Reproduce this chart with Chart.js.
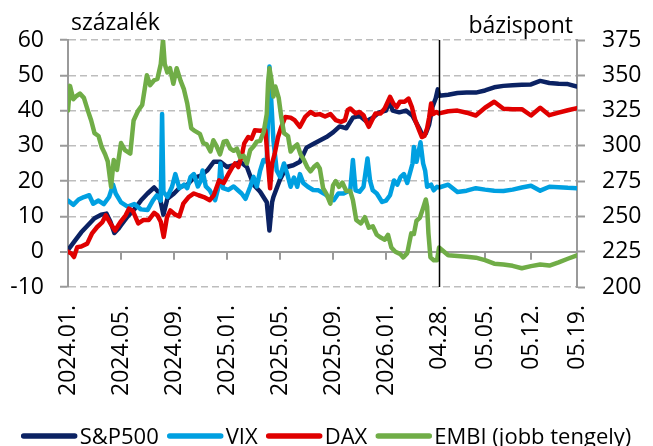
<!DOCTYPE html>
<html lang="hu">
<head>
<meta charset="UTF-8">
<title>S&amp;P500, VIX, DAX, EMBI</title>
<script src="https://cdn.jsdelivr.net/npm/chart.js@4"></script>
<style>
  body { margin: 0; background: #fff; }
  canvas { display: block; }
</style>
</head>
<body>
<canvas id="chart" width="653" height="446"></canvas>
<script>
// bal szakasz: [hónap 2024.01. óta, érték], a napi görbékről leolvasva
const spxLeft = [[0,0.5],[0.5,3],[1,5.5],[1.5,7.5],[2,9.5],[2.5,10.5],[2.9,10.8],[3.2,8.5],[3.5,5.3],[3.8,6.5],[4,7.5],[4.5,10],[5,12],[5.5,14.5],[6,16.5],[6.5,18.2],[6.8,17],[7,14],[7.2,10.5],[7.5,15],[8,16.5],[8.5,18.4],[9,19],[9.5,21],[10,21.5],[10.5,23],[11,25.5],[11.5,25.5],[12,24],[12.5,24.5],[13,25.5],[13.5,24],[14,19],[14.5,17],[15,14],[15.2,6],[15.4,14],[15.5,15.5],[16,20.5],[16.5,24],[17,24.5],[17.5,25.5],[18,29.5],[18.5,30.5],[19,31.5],[19.5,32.5],[20,33.8],[20.5,35.5],[21,35],[21.5,38],[22,38.5],[22.5,37],[23,38],[23.5,39.5],[24,40],[24.25,42.5],[24.5,40],[25,39.5],[25.5,40],[26,38.5],[26.5,35],[26.75,33],[27,33.5],[27.25,36],[27.5,41],[27.75,43.5],[27.9,46]];

const vixLeft = [[0,14.5],[0.4,13.3],[0.8,14.8],[1.2,15.5],[1.6,16],[1.9,13.6],[2.3,14.5],[2.7,13.5],[3.1,15.5],[3.4,19],[3.6,16.5],[4,14],[4.5,12.8],[5,13.5],[5.5,12],[6,11.8],[6.4,14.5],[6.7,16],[7,14.5],[7.1,39],[7.2,17],[7.5,15.5],[7.85,18.4],[8.1,22],[8.4,18],[8.75,19],[9,18],[9.25,21.2],[9.5,22],[9.8,18.5],[10,20],[10.15,23],[10.4,18.5],[10.7,17.4],[11.1,14.6],[11.4,19],[11.5,25],[11.7,18],[12.1,17.5],[12.5,18.5],[12.8,17.5],[13.1,16.5],[13.4,15],[13.75,18.4],[14,21.2],[14.25,18.5],[14.5,23],[14.75,26],[15,25.5],[15.2,52.5],[15.35,42],[15.5,31.6],[15.75,23],[16,21.2],[16.3,25],[16.55,22],[16.8,18.4],[17.05,21],[17.3,18.4],[17.5,22],[17.75,19.5],[18.1,18.4],[18.5,17.5],[18.9,17.4],[19.3,16.5],[19.7,15.5],[20.05,14.6],[20.4,16.5],[20.8,16.5],[21.3,17.4],[21.5,26],[21.7,17.4],[22,17],[22.3,18.4],[22.6,26.4],[22.8,20],[23,17.4],[23.3,16.5],[23.7,14.1],[24,14.5],[24.3,16],[24.6,20.2],[24.85,19],[25.1,21.2],[25.35,22],[25.6,19.5],[26,25],[26.1,29.7],[26.3,25.5],[26.6,31],[26.8,25],[26.95,23],[27.1,18.4],[27.4,19],[27.6,17.4],[27.85,18.4]];

const daxLeft = [[0,0],[0.25,-0.5],[0.45,-1.5],[0.7,1.3],[1,1.5],[1.45,2.3],[1.8,5.1],[2.2,7],[2.6,8.4],[2.85,10.3],[3.2,8],[3.55,6],[3.95,8.4],[4.35,10.3],[4.6,12.2],[4.9,11.5],[5.3,8],[5.7,9],[6.1,9],[6.5,11],[6.75,10.3],[7,8.5],[7.22,4.2],[7.47,9.8],[7.72,11.7],[8.1,10.5],[8.4,10],[8.7,13.6],[9.1,15.5],[9.5,16.5],[9.85,16],[10.25,15.5],[10.7,14.6],[11,16],[11.4,20.2],[11.75,19.5],[12.1,22],[12.4,24],[12.6,25],[12.85,24],[13.1,27],[13.3,30.7],[13.6,32.5],[13.85,32],[14.1,34.4],[14.5,34.3],[14.9,34.4],[15.05,27],[15.25,18],[15.4,25],[15.6,27.8],[15.85,32.5],[16.1,35.4],[16.4,38.2],[16.8,38],[17.1,37.3],[17.5,35.4],[17.9,38.2],[18.3,39.6],[18.65,38.8],[19,39],[19.4,38.3],[19.8,39],[20.2,37.3],[20.6,36.8],[20.9,37.3],[21.1,40.1],[21.3,40.6],[21.7,39.2],[22,39.6],[22.3,38.7],[22.45,37.3],[22.7,35.4],[22.95,37.3],[23.2,39.2],[23.6,39.2],[23.9,40.6],[24.3,43.9],[24.55,42],[24.8,41],[25.05,42.5],[25.4,42.5],[25.7,43.4],[25.95,41],[26.2,37.3],[26.5,34.4],[26.7,32.5],[26.9,32.8],[27.1,35],[27.25,38],[27.4,42],[27.55,39],[27.8,39.6]];

// EMBI bázispontban (jobb tengely)
const embiLeft = [[0,325],[0.15,342.5],[0.4,333],[0.6,335],[0.9,337],[1.2,334],[1.5,325],[1.75,318],[2,309],[2.3,307],[2.55,299],[2.8,294],[3,289],[3.25,271],[3.45,290],[3.7,283],[4,302],[4.3,297],[4.7,294.5],[4.95,318],[5.3,325],[5.6,329],[5.95,350],[6.2,343],[6.5,346.5],[6.75,347.5],[7,358],[7.17,375],[7.3,358],[7.5,352],[7.7,355],[7.95,344],[8.2,355],[8.5,346],[8.75,340],[9,330],[9.3,312.5],[9.5,311],[9.95,308.5],[10.2,302],[10.47,301],[10.75,296],[10.97,304],[11.2,300],[11.47,294],[11.75,303],[11.97,303.5],[12.25,298],[12.5,296.5],[12.75,298],[12.98,292],[13.25,293],[13.5,287.5],[13.75,297],[14,299.5],[14.25,303],[14.5,303.5],[14.77,310],[15,322.5],[15.1,345],[15.2,355],[15.35,347],[15.5,335],[15.65,342],[15.9,334],[16.1,320],[16.3,309],[16.6,307],[16.8,296],[17.05,299],[17.3,301],[17.55,294],[17.8,290],[18.05,285],[18.3,282],[18.55,285],[18.8,287],[19,284],[19.25,270],[19.5,266],[19.8,259],[20,272],[20.2,275],[20.45,271],[20.7,274],[21,268],[21.3,268],[21.5,261.5],[21.75,247.5],[22.1,245],[22.4,249.5],[22.7,242],[23,243],[23.3,237],[23.6,235],[23.9,233.5],[24.15,237],[24.4,228],[24.7,225],[25.05,223.5],[25.3,221],[25.6,224],[25.9,238],[26.1,237.5],[26.3,247],[26.55,249],[26.8,256],[27,262],[27.1,257],[27.2,238],[27.35,221],[27.6,219],[27.85,219]];

// jobb szakasz: napi adatok
const rightDays = ['04.28.','04.29.','04.30.','05.01.','05.04.','05.05.','05.06.','05.07.','05.08.','05.11.','05.12.','05.13.','05.14.','05.15.','05.18.','05.19.'];
const spxRight  = [44.2, 44.5, 45, 45.1, 45.1, 45.7, 46.6, 47, 47.2, 47.3, 47.4, 48.4, 47.8, 47.6, 47.5, 46.8];
const vixRight  = [18.2, 19, 16.9, 17.3, 18, 17.6, 17.3, 17.2, 17.6, 18.2, 18.7, 17.3, 18.4, 18.3, 18.1, 18];
const daxRight  = [39.2, 39.8, 40, 39.4, 38.6, 40.8, 42.5, 40.5, 40.4, 40.4, 38.6, 40.8, 38.7, 39.4, 40.1, 40.7];
const embiRight = [228, 222.5, 222, 221.5, 220.8, 219, 216.5, 216, 215, 213.3, 214.8, 216, 215.2, 217.5, 220, 222.5];

const monthTicks = ['2024.01.', '2024.05.', '2024.09.', '2025.01.', '2025.05.', '2025.09.', '2026.01.'];
const dayTicks = ['04.28.', '05.05.', '05.12.', '05.19.'];

// a két szakasz illesztése egy lineáris tengelyre
const SPLIT = 28;     // 2026.04.28. helye hónapban
const DAY = 0.694;    // egy kereskedési nap szélessége a jobb szakaszban

function monthPos(lbl) {
  const [y, m] = lbl.split('.');
  return (Number(y) - 2024) * 12 + (Number(m) - 1);
}
function dayPos(lbl) {
  return SPLIT + rightDays.indexOf(lbl) * DAY;
}
function series(left, right) {
  return left.map(p => ({x: p[0], y: p[1]}))
    .concat(right.map((v, i) => ({x: SPLIT + i * DAY, y: v})));
}

const xTickVals = monthTicks.map(monthPos).concat(dayTicks.map(dayPos));
const xTickLabels = monthTicks.concat(dayTicks);

const FONT = "'Open Sans', sans-serif";
Chart.defaults.font.family = FONT;
Chart.defaults.color = '#000';

const GRID = '#bdbdbd';
const AXIS = '#9a9a9a';

const extras = {
  id: 'extras',
  // x tengely osztásjelei a 0-s vonalon
  beforeDatasetsDraw(chart) {
    const {ctx, scales: {x, y}} = chart;
    const y0 = y.getPixelForValue(0);
    ctx.save();
    ctx.strokeStyle = AXIS;
    ctx.lineWidth = 2;
    x.ticks.forEach(t => {
      const px = Math.round(x.getPixelForValue(t.value));
      ctx.beginPath();
      ctx.moveTo(px, y0);
      ctx.lineTo(px, y0 + 8);
      ctx.stroke();
    });
    ctx.restore();
  },
  // elválasztó függőleges vonal 04.28-nál
  afterDatasetsDraw(chart) {
    const {ctx, chartArea: a, scales: {x}} = chart;
    const xs = Math.round(x.getPixelForValue(SPLIT)) + 0.5;
    ctx.save();
    ctx.strokeStyle = '#000';
    ctx.lineWidth = 1.5;
    ctx.beginPath();
    ctx.moveTo(xs, a.top);
    ctx.lineTo(xs, a.bottom);
    ctx.stroke();
    ctx.restore();
  },
  afterDraw(chart) {
    const {ctx, chartArea: a} = chart;
    ctx.save();
    ctx.fillStyle = '#000';
    ctx.font = '23px ' + FONT;
    ctx.textBaseline = 'alphabetic';
    ctx.textAlign = 'left';
    ctx.fillText('százalék', a.left + 3, 30);
    ctx.textAlign = 'right';
    ctx.fillText('bázispont', a.right - 4, 33);

    // jelmagyarázat
    ctx.font = '22px ' + FONT;
    ctx.textAlign = 'left';
    const lineLen = 55, gap = 3, itemGap = 9;
    const items = chart.data.datasets.map(d => ({text: d.label, color: d.borderColor}));
    let total = 0;
    items.forEach((it, i) => {
      it.w = ctx.measureText(it.text).width;
      total += lineLen + gap + it.w + (i ? itemGap : 0);
    });
    let cx = (chart.width - total) / 2;
    const ly = 436;
    items.forEach(it => {
      ctx.strokeStyle = it.color;
      ctx.lineWidth = 5.5;
      ctx.lineCap = 'round';
      ctx.beginPath();
      ctx.moveTo(cx + 2, ly);
      ctx.lineTo(cx + lineLen - 2, ly);
      ctx.stroke();
      ctx.fillText(it.text, cx + lineLen + gap, 444);
      cx += lineLen + gap + it.w + itemGap;
    });
    ctx.restore();
  }
};

function line(label, data, color, axis, order) {
  return {
    label, data, yAxisID: axis, order,
    borderColor: color, backgroundColor: color,
    borderWidth: 4.5, pointRadius: 0, tension: 0,
    borderJoinStyle: 'round', borderCapStyle: 'round'
  };
}

new Chart(document.getElementById('chart'), {
  type: 'line',
  data: {
    datasets: [
      line('S&P500', series(spxLeft, spxRight), '#0b2263', 'y', 4),
      line('VIX', series(vixLeft, vixRight), '#00a0e1', 'y', 3),
      line('DAX', series(daxLeft, daxRight), '#e00000', 'y', 2),
      line('EMBI (jobb tengely)', series(embiLeft, embiRight), '#70ad47', 'y1', 1)
    ]
  },
  options: {
    responsive: false,
    animation: false,
    layout: {padding: {top: 40, left: 0, right: 0, bottom: 0}},
    plugins: {legend: {display: false}, tooltip: {enabled: false}},
    scales: {
      x: {
        type: 'linear',
        min: 0,
        max: SPLIT + (rightDays.length - 1) * DAY,
        grid: {display: false, drawTicks: false},
        border: {display: false},
        afterBuildTicks: s => { s.ticks = xTickVals.map(v => ({value: v})); },
        afterFit: s => { s.height = 159; },
        ticks: {
          autoSkip: false, minRotation: 90, maxRotation: 90, padding: 18,
          font: {size: 23},
          callback: (v, i) => xTickLabels[i]
        }
      },
      y: {
        position: 'left',
        min: -10, max: 60,
        ticks: {stepSize: 10, padding: 16, font: {size: 23}},
        grid: {
          color: c => (c.tick && c.tick.value === 0) ? AXIS : GRID,
          lineWidth: c => (c.tick && c.tick.value === 0) ? 2 : 1.5,
          tickLength: 8, tickColor: AXIS, tickWidth: 2
        },
        border: {
          display: true, color: AXIS, width: 2,
          dash: c => (c.tick && c.tick.value !== 0) ? [7, 4] : []
        },
        afterFit: s => { s.width = 68; }
      },
      y1: {
        position: 'right',
        min: 200, max: 375,
        ticks: {stepSize: 25, padding: 17, font: {size: 23}},
        grid: {drawOnChartArea: false, tickLength: 8, tickColor: AXIS, tickWidth: 2},
        border: {display: true, color: AXIS, width: 2},
        afterFit: s => { s.width = 76; }
      }
    }
  },
  plugins: [extras]
});
</script>
</body>
</html>
